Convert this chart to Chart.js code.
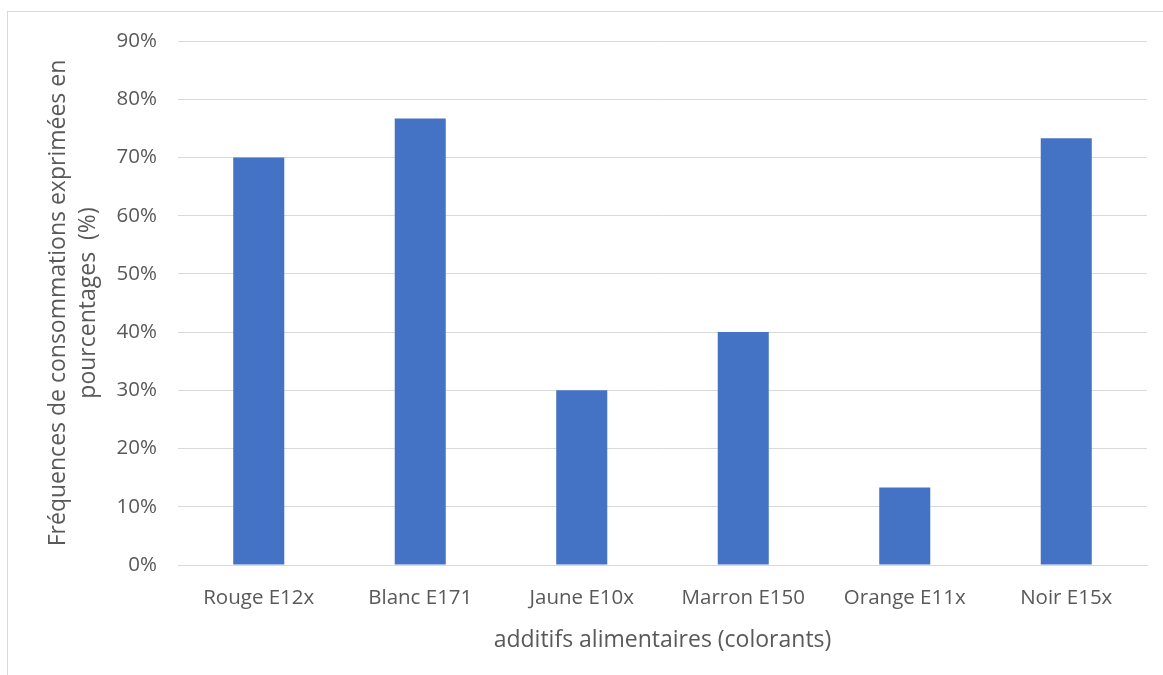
<!DOCTYPE html>
<html>
<head>
<meta charset="utf-8">
<script src="https://cdn.jsdelivr.net/npm/chart.js@4"></script>
<style>
  html, body { margin: 0; padding: 0; background: #fff; overflow: hidden; }
  #frame { position: absolute; left: 7px; top: 11px; width: 1180px; height: 690px; border: 1px solid #d9d9d9; }
  #wrap { position: absolute; left: 0; top: 0; width: 1163px; height: 675px; }
</style>
</head>
<body>
<div id="frame"></div>
<div id="wrap"><canvas id="myChart" width="1163" height="675"></canvas></div>
<script>
// colorants et frequences (%)
var categories = ["Rouge E12x", "Blanc E171", "Jaune E10x", "Marron E150", "Orange E11x", "Noir E15x"];
var frequences = [70, 76.7, 30, 40, 13.3, 73.3];
var yTicks = [0, 10, 20, 30, 40, 50, 60, 70, 80, 90];
var xTitle = "additifs alimentaires (colorants)";
var yTitle = ["Fréquences de consommations exprimées en", "pourcentages  (%)"];

var fontName = "'Open Sans', sans-serif";
var textColor = "#595959";

const ctx = document.getElementById("myChart").getContext("2d");
const myChart = new Chart(ctx, {
	type: "bar",
	data: {
		labels: categories,
		datasets: [
			{
				label: "Fréquences",
				data: frequences,
				backgroundColor: "#4472c4",
				borderWidth: 0,
				barPercentage: 1,
				categoryPercentage: 0.316,
			},
		],
	},
	options: {
		responsive: false,
		animation: false,
		layout: { padding: { top: 41, right: 16, left: 0, bottom: 0 } },
		plugins: {
			legend: { display: false },
			tooltip: { enabled: false },
		},
		scales: {
			x: {
				grid: { display: false, drawTicks: false },
				border: { display: true, color: "#d9d9d9", width: 1 },
				ticks: { color: textColor, font: { family: fontName, size: 20.5 }, padding: 21 },
				title: {
					display: true,
					text: xTitle,
					color: textColor,
					font: { family: fontName, size: 23 },
					padding: { top: 10, bottom: 21 },
				},
				afterFit: function (scale) {
					scale.height = 110;
				},
			},
			y: {
				min: 0,
				max: 90,
				afterBuildTicks: function (scale) {
					scale.ticks = yTicks.map(function (v) {
						return { value: v };
					});
				},
				grid: { color: "#d9d9d9", lineWidth: 1, drawTicks: false },
				border: { display: false },
				ticks: {
					color: textColor,
					font: { family: fontName, size: 20.5 },
					padding: 21,
					callback: function (v) {
						return v + "%";
					},
				},
				title: {
					display: true,
					text: yTitle,
					color: textColor,
					font: { family: fontName, size: 23, lineHeight: 1.33 },
					padding: { top: 43, bottom: 0 },
				},
				afterFit: function (scale) {
					scale.width = 178;
				},
			},
		},
	},
});
</script>
</body>
</html>
